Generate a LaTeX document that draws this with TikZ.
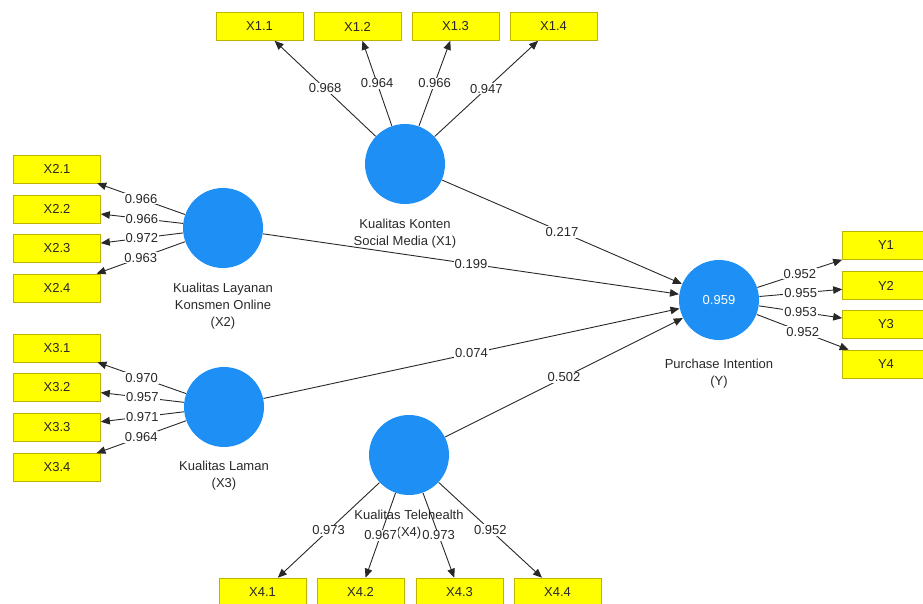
\documentclass[tikz,border=0pt]{standalone}
\usepackage{fontspec}
\setmainfont{Liberation Sans}
\usetikzlibrary{arrows.meta}
\definecolor{lvblue}{RGB}{30,144,245}
\definecolor{indyellow}{RGB}{255,255,0}
\definecolor{indedge}{RGB}{190,180,0}
\definecolor{pathgray}{RGB}{40,40,40}

\begin{document}
\begin{tikzpicture}[x=1pt, y=-1pt, line width=0.9pt, color=pathgray,
	every node/.style={font=\fontsize{13}{17}\selectfont},
	lv/.style={circle, fill=lvblue, minimum size=80pt, inner sep=0pt},
	ind/.style={rectangle, draw=indedge, line width=0.6pt, fill=indyellow, minimum width=87pt, minimum height=28pt, inner sep=0pt},
	ld/.style={fill=white, inner sep=1pt},
	lvname/.style={align=center},
	>={Triangle[length=9pt,width=7.5pt]}]
			\useasboundingbox (0,0) rectangle (923,604);
			% latent variables
			\node[lvname] (n1) at (405,234) {Kualitas Konten\\Social Media (X1)};
			\node[lvname] (n2) at (223,306) {Kualitas Layanan\\Konsmen Online\\(X2)};
			\node[lvname] (n3) at (224,476) {Kualitas Laman\\(X3)};
			\node[lvname] (n4) at (409,525) {Kualitas Telehealth\\(X4)};
			\node[lvname] (ny) at (719,374) {Purchase Intention\\(Y)};
			\node[lv] (c1) at (405,164) {};
			\node[lv] (c2) at (223,228) {};
			\node[lv] (c3) at (224,407) {};
			\node[lv] (c4) at (409,455) {};
			\node[lv, text=white] (cy) at (719,300) {0.959};
			% indicators
			\node[ind] (x11) at (259.5,26.5) {X1.1};
			\node[ind] (x12) at (357.5,26.5) {X1.2};
			\node[ind] (x13) at (455.5,26.5) {X1.3};
			\node[ind] (x14) at (553.5,26.5) {X1.4};
			\node[ind] (x21) at (57,169) {X2.1};
			\node[ind] (x22) at (57,209) {X2.2};
			\node[ind] (x23) at (57,248.5) {X2.3};
			\node[ind] (x24) at (57,288) {X2.4};
			\node[ind] (x31) at (57,348) {X3.1};
			\node[ind] (x32) at (57,387.5) {X3.2};
			\node[ind] (x33) at (57,427) {X3.3};
			\node[ind] (x34) at (57,467.5) {X3.4};
			\node[ind] (x41) at (262.5,592) {X4.1};
			\node[ind] (x42) at (360.5,592) {X4.2};
			\node[ind] (x43) at (459.5,592) {X4.3};
			\node[ind] (x44) at (557.5,592) {X4.4};
			\node[ind] (y1) at (886,245.5) {Y1};
			\node[ind] (y2) at (886,285.5) {Y2};
			\node[ind] (y3) at (886,324.5) {Y3};
			\node[ind] (y4) at (886,364) {Y4};
			% outer loadings
			\draw [->] (c1) -- node[ld] {0.968} (x11);
			\draw [->] (c1) -- node[ld] {0.964} (x12);
			\draw [->] (c1) -- node[ld] {0.966} (x13);
			\draw [->] (c1) -- node[ld] {0.947} (x14);
			\draw [->] (c2) -- node[ld] {0.966} (x21);
			\draw [->] (c2) -- node[ld] {0.966} (x22);
			\draw [->] (c2) -- node[ld] {0.972} (x23);
			\draw [->] (c2) -- node[ld] {0.963} (x24);
			\draw [->] (c3) -- node[ld] {0.970} (x31);
			\draw [->] (c3) -- node[ld] {0.957} (x32);
			\draw [->] (c3) -- node[ld] {0.971} (x33);
			\draw [->] (c3) -- node[ld] {0.964} (x34);
			\draw [->] (c4) -- node[ld] {0.973} (x41);
			\draw [->] (c4) -- node[ld] {0.967} (x42);
			\draw [->] (c4) -- node[ld] {0.973} (x43);
			\draw [->] (c4) -- node[ld] {0.952} (x44);
			\draw [->] (cy) -- node[ld] {0.952} (y1);
			\draw [->] (cy) -- node[ld] {0.955} (y2);
			\draw [->] (cy) -- node[ld] {0.953} (y3);
			\draw [->] (cy) -- node[ld] {0.952} (y4);
			% path coefficients
			\draw [->] (c1) -- node[ld] {0.217} (cy);
			\draw [->] (c2) -- node[ld] {0.199} (cy);
			\draw [->] (c3) -- node[ld] {0.074} (cy);
			\draw [->] (c4) -- node[ld] {0.502} (cy);
\end{tikzpicture}
\end{document}
